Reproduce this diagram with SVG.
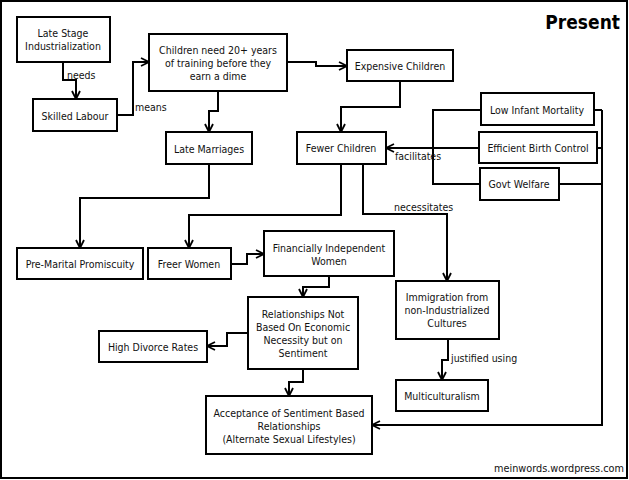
<svg xmlns="http://www.w3.org/2000/svg" width="629" height="480" viewBox="0 0 629 480">
<style>
.box{fill:#fff;stroke:#000;stroke-width:2}
.t{font-family:"DejaVu Sans Condensed","DejaVu Sans",sans-serif;font-size:10.5px;fill:#111;text-anchor:middle}
.l{font-family:"DejaVu Sans Condensed","DejaVu Sans",sans-serif;font-size:10.5px;fill:#111}
.c{fill:none;stroke:#000;stroke-width:2}
.ca{fill:none;stroke:#000;stroke-width:2;marker-end:url(#ah)}
</style>
<defs>
<marker id="ah" viewBox="0 0 10 10" refX="9" refY="5" markerWidth="10" markerHeight="10" markerUnits="userSpaceOnUse" orient="auto">
<path d="M1,1 L9,5 L1,9" fill="none" stroke="#000" stroke-width="1.8"/>
</marker>
</defs>
<rect x="0" y="0" width="629" height="480" fill="#fff"/>
<rect x="1" y="1" width="626" height="477" fill="none" stroke="#000" stroke-width="2"/>
<text x="620" y="29" style="font-family:'DejaVu Sans Condensed','DejaVu Sans',sans-serif;font-size:19px;font-weight:bold;text-anchor:end">Present</text>
<text x="624" y="472" class="l" style="text-anchor:end;font-size:10.8px">meinwords.wordpress.com</text>

<g id="connectors">
<path class="ca" d="M63,62 V80 H76 V99"/>
<path class="ca" d="M117,115 H133 V62 H149"/>
<path class="ca" d="M218,91 V111 H209 V132"/>
<path class="ca" d="M287,62 H316 V66 H347"/>
<path class="ca" d="M400,81 V107 H341 V132"/>
<path class="c" d="M481,110 H433 V184 H480"/>
<path class="ca" d="M479,148 H386"/>
<path class="c" d="M594,110 H602 M597,148 H602 M559,184 H602"/>
<path class="ca" d="M602,110 V425 H372"/>
<path class="ca" d="M209,164 V198 H80 V248"/>
<path class="ca" d="M341,164 V215 H189 V248"/>
<path class="ca" d="M363,164 V214 H447 V281"/>
<path class="ca" d="M231,264 H247 V254 H264"/>
<path class="ca" d="M329,276 V287 H303 V297"/>
<path class="ca" d="M248,333 H227 V346 H207"/>
<path class="ca" d="M303,369 V382 H289 V396"/>
<path class="ca" d="M448,339 V360 H442 V380"/>
<text class="l" x="67" y="79">needs</text>
<text class="l" x="135" y="111">means</text>
<text class="l" x="395" y="160">facilitates</text>
<text class="l" x="394" y="211">necessitates</text>
<text class="l" x="451" y="362">justified using</text>
</g>

<g id="n1"><rect class="box" x="17" y="17" width="93" height="45"/><text class="t" x="63" y="37">Late Stage</text><text class="t" x="63" y="50">Industrialization</text></g>
<g id="n2"><rect class="box" x="33" y="99" width="84" height="32"/><text class="t" x="75" y="120">Skilled Labour</text></g>
<g id="n3"><rect class="box" x="149" y="34" width="138" height="57"/><text class="t" x="218" y="54">Children need 20+ years</text><text class="t" x="218" y="67">of training before they</text><text class="t" x="218" y="80">earn a dime</text></g>
<g id="n4"><rect class="box" x="166" y="132" width="86" height="32"/><text class="t" x="209" y="153">Late Marriages</text></g>
<g id="n5"><rect class="box" x="347" y="50" width="106" height="31"/><text class="t" x="400" y="70">Expensive Children</text></g>
<g id="n6"><rect class="box" x="297" y="132" width="89" height="32"/><text class="t" x="341" y="152">Fewer Children</text></g>
<g id="n7"><rect class="box" x="481" y="93" width="113" height="32"/><text class="t" x="537" y="114">Low Infant Mortality</text></g>
<g id="n8"><rect class="box" x="479" y="132" width="118" height="31"/><text class="t" x="538" y="152">Efficient Birth Control</text></g>
<g id="n9"><rect class="box" x="480" y="168" width="79" height="32"/><text class="t" x="519" y="188">Govt Welfare</text></g>
<g id="n10"><rect class="box" x="17" y="248" width="126" height="31"/><text class="t" x="80" y="268">Pre-Marital Promiscuity</text></g>
<g id="n11"><rect class="box" x="148" y="248" width="83" height="31"/><text class="t" x="189" y="268">Freer Women</text></g>
<g id="n12"><rect class="box" x="264" y="231" width="130" height="45"/><text class="t" x="329" y="252">Financially Independent</text><text class="t" x="329" y="265">Women</text></g>
<g id="n13"><rect class="box" x="396" y="281" width="103" height="58"/><text class="t" x="447" y="301">Immigration from</text><text class="t" x="447" y="314">non-Industrialized</text><text class="t" x="447" y="327">Cultures</text></g>
<g id="n14"><rect class="box" x="248" y="297" width="110" height="72"/><text class="t" x="303" y="318">Relationships Not</text><text class="t" x="303" y="331">Based On Economic</text><text class="t" x="303" y="344">Necessity but on</text><text class="t" x="303" y="357">Sentiment</text></g>
<g id="n15"><rect class="box" x="99" y="331" width="108" height="31"/><text class="t" x="153" y="351">High Divorce Rates</text></g>
<g id="n16"><rect class="box" x="206" y="396" width="166" height="58"/><text class="t" x="289" y="417">Acceptance of Sentiment Based</text><text class="t" x="289" y="430">Relationships</text><text class="t" x="289" y="443">(Alternate Sexual Lifestyles)</text></g>
<g id="n17"><rect class="box" x="396" y="380" width="92" height="31"/><text class="t" x="442" y="400">Multiculturalism</text></g>
</svg>
